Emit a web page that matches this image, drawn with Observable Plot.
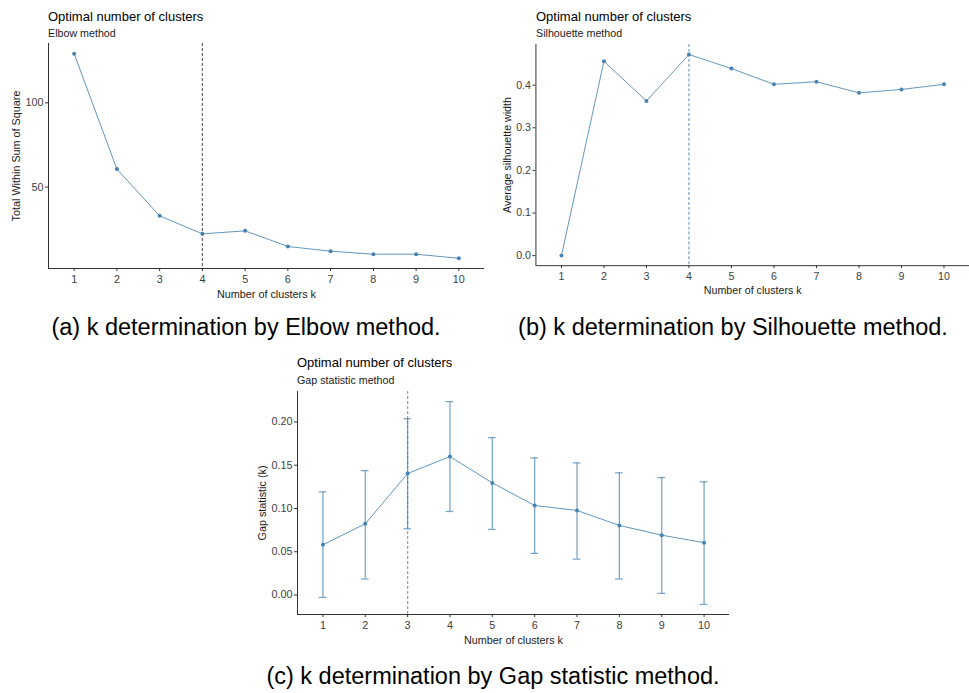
<!DOCTYPE html>
<html>
<head>
<meta charset="utf-8">
<script src="https://cdn.jsdelivr.net/npm/d3@7"></script>
<script src="https://cdn.jsdelivr.net/npm/@observablehq/plot@0.6"></script>
<style>
  html, body { margin: 0; padding: 0; background: #fff; }
  body { width: 969px; height: 693px; overflow: hidden; position: relative;
         font-family: "Liberation Sans", Arial, Helvetica, sans-serif; }
  .abs { position: absolute; }
  .title { font-size: 13px; color: #000; line-height: 1; white-space: nowrap; transform: translateY(-50%); }
  .sub { font-size: 10.7px; color: #1a1a1a; line-height: 1; white-space: nowrap; transform: translateY(-50%); }
  .cap { font-size: 23.5px; color: #000; line-height: 1; white-space: nowrap; transform: translate(-50%, -50%); }
  .box { overflow: hidden; }
  svg { display: block; }
</style>
</head>
<body>
<script>
// ---- data ----
const ks = [1, 2, 3, 4, 5, 6, 7, 8, 9, 10];
const wss = [129.2, 60.7, 32.9, 22.2, 24.0, 14.7, 11.9, 10.1, 10.1, 7.7];
const silhouette = [0, 0.456, 0.363, 0.472, 0.439, 0.402, 0.408, 0.382, 0.390, 0.402];
const gap = [0.058, 0.0823, 0.1404, 0.160, 0.1296, 0.1035, 0.0977, 0.0804, 0.0692, 0.0604];
const gapLower = [-0.0027, 0.0185, 0.0765, 0.0965, 0.0758, 0.0481, 0.0415, 0.0185, 0.0019, -0.0108];
const gapUpper = [0.1192, 0.1438, 0.2038, 0.2235, 0.1819, 0.1585, 0.1527, 0.1412, 0.1358, 0.1308];
const elbowK = 4, silhouetteK = 4, gapK = 3;
const wssTicks = [50, 100];
const silTicks = [0, 0.1, 0.2, 0.3, 0.4];
const gapTicks = [0, 0.05, 0.10, 0.15, 0.20];
const mainTitle = "Optimal number of clusters";
const subtitles = ["Elbow method", "Silhouette method", "Gap statistic method"];
const yLabels = ["Total Within Sum of Square", "Average silhouette width", "Gap statistic (k)"];
const xLabel = "Number of clusters k";
const captions = ["(a) k determination by Elbow method.", "(b) k determination by Silhouette method.", "(c) k determination by Gap statistic method."];

// ---- helpers ----
const FONT = '"Liberation Sans", Arial, Helvetica, sans-serif';
const BLUE = "#4682B4";
const LIGHTBLUE = "#7ba7cf";
const expand = ([a, b]) => { const p = (b - a) * 0.05; return [a - p, b + p]; };

function panel({width, height, marginLeft, marginTop, marginBottom, marginRight,
                yDomain, yTicks, yFormat, yLabel, yLabelX, marks}) {
  return Plot.plot({
    width, height, marginLeft, marginTop, marginBottom, marginRight,
    style: {fontFamily: FONT, fontSize: "10.8px", color: "#4d4d4d", background: "transparent", overflow: "visible"},
    x: {domain: [0.4, 10.6]},
    y: {domain: yDomain},
    marks: [
      ...marks,
      Plot.ruleY([yDomain[0]], {stroke: "#333", strokeWidth: 1}),
      Plot.ruleX([0.4], {stroke: "#333", strokeWidth: 1}),
      Plot.axisX(ks, {tickSize: 3, tickPadding: 4, stroke: "#333", fill: "#3d3d3d", label: null}),
      Plot.axisY(yTicks, {tickSize: 3, tickPadding: 2, stroke: "#333", fill: "#3d3d3d", tickFormat: yFormat, label: null}),
      Plot.text([xLabel], {text: d => d, frameAnchor: "bottom", textAnchor: "middle", lineAnchor: "bottom", dy: 29, fill: "#1a1a1a"}),
      Plot.text([yLabel], {text: d => d, frameAnchor: "left", textAnchor: "middle", rotate: -90, dx: -(marginLeft - yLabelX), fill: "#1a1a1a"})
    ]
  });
}

function place(node, left, top, width, cls) {
  const div = document.createElement("div");
  div.className = "abs" + (cls ? " " + cls : "");
  div.style.left = left + "px";
  div.style.top = top + "px";
  if (width) div.style.width = width + "px";
  div.appendChild(node);
  document.body.appendChild(div);
  return div;
}
function label(text, left, top, cls) {
  const div = document.createElement("div");
  div.className = "abs " + cls;
  div.style.left = left + "px";
  div.style.top = top + "px";
  div.textContent = text;
  document.body.appendChild(div);
}

// ---- (a) Elbow ----
const elbowData = ks.map((k, i) => ({k, v: wss[i]}));
const plotA = panel({
  width: 490, height: 260, marginLeft: 48, marginTop: 3, marginBottom: 32, marginRight: 6,
  yDomain: expand(d3.extent(wss)), yTicks: wssTicks, yFormat: d3.format("d"),
  yLabel: yLabels[0], yLabelX: 16,
  marks: [
    Plot.ruleX([elbowK], {stroke: "#666", strokeWidth: 1.2, strokeDasharray: "3,2"}),
    Plot.line(elbowData, {x: "k", y: "v", stroke: BLUE, strokeWidth: 1, strokeOpacity: 0.85}),
    Plot.dot(elbowData, {x: "k", y: "v", r: 2, fill: BLUE})
  ]
});
place(plotA, 0, 40, 490, "box");
label(mainTitle, 48, 16, "title");
label(subtitles[0], 48, 33, "sub");

// ---- (b) Silhouette ----
const silData = ks.map((k, i) => ({k, v: silhouette[i]}));
const plotB = panel({
  width: 485, height: 260, marginLeft: 46, marginTop: 4, marginBottom: 32, marginRight: 0,
  yDomain: expand(d3.extent(silhouette)), yTicks: silTicks, yFormat: d3.format(".1f"),
  yLabel: yLabels[1], yLabelX: 17,
  marks: [
    Plot.ruleX([silhouetteK], {stroke: LIGHTBLUE, strokeWidth: 1.3, strokeDasharray: "3,2"}),
    Plot.line(silData, {x: "k", y: "v", stroke: BLUE, strokeWidth: 1, strokeOpacity: 0.85}),
    Plot.dot(silData, {x: "k", y: "v", r: 2, fill: BLUE})
  ]
});
place(plotB, 490, 40, 479, "box");
label(mainTitle, 536, 16, "title");
label(subtitles[1], 536, 33, "sub");

// ---- (c) Gap statistic ----
const gapData = ks.map((k, i) => ({k, v: gap[i], lo: gapLower[i], hi: gapUpper[i]}));
const plotC = panel({
  width: 490, height: 259, marginLeft: 57, marginTop: 4, marginBottom: 32, marginRight: 1,
  yDomain: expand([d3.min(gapLower), d3.max(gapUpper)]), yTicks: gapTicks, yFormat: d3.format(".2f"),
  yLabel: yLabels[2], yLabelX: 22,
  marks: [
    Plot.ruleX([gapK], {stroke: LIGHTBLUE, strokeWidth: 1.3, strokeDasharray: "3,2"}),
    Plot.ruleX(gapData, {x: "k", y1: "lo", y2: "hi", stroke: BLUE, strokeWidth: 1.2, strokeOpacity: 0.75}),
    Plot.ruleY(gapData, {y: "hi", x1: d => d.k - 0.09, x2: d => d.k + 0.09, stroke: BLUE, strokeWidth: 1.2, strokeOpacity: 0.75}),
    Plot.ruleY(gapData, {y: "lo", x1: d => d.k - 0.09, x2: d => d.k + 0.09, stroke: BLUE, strokeWidth: 1.2, strokeOpacity: 0.75}),
    Plot.line(gapData, {x: "k", y: "v", stroke: BLUE, strokeWidth: 1, strokeOpacity: 0.85}),
    Plot.dot(gapData, {x: "k", y: "v", r: 2, fill: BLUE})
  ]
});
place(plotC, 240, 387, 490, "box");
label(mainTitle, 297, 362, "title");
label(subtitles[2], 297, 380, "sub");

// ---- captions ----
label(captions[0], 246, 328, "cap");
label(captions[1], 733, 328, "cap");
label(captions[2], 493, 677, "cap");
</script>
</body>
</html>
